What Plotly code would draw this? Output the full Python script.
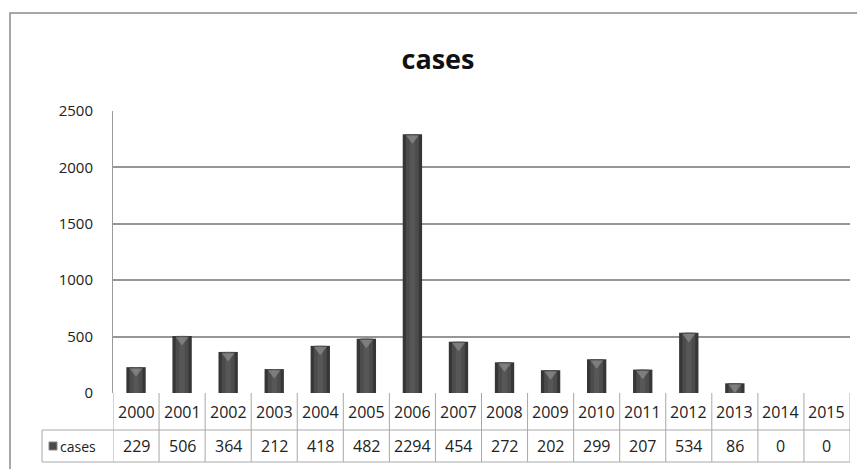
import plotly.graph_objects as go

years = ["2000", "2001", "2002", "2003", "2004", "2005", "2006", "2007",
         "2008", "2009", "2010", "2011", "2012", "2013", "2014", "2015"]
cases = [229, 506, 364, 212, 418, 482, 2294, 454, 272, 202, 299, 207, 534, 86, 0, 0]
series_name = "cases"
y_ticks = [0, 500, 1000, 1500, 2000, 2500]

W, H = 857, 469
L, R, T, B = 113, 7, 111, 76
pw, ph = W - L - R, H - T - B
YMAX = 2500

def py(pix):  # pixel y -> paper y
    return (H - B - pix) / ph

def px(pix):  # pixel x -> paper x
    return (pix - L) / pw

idx = list(range(len(years)))
fig = go.Figure()
fig.add_trace(go.Bar(x=idx, y=cases, width=0.42, marker=dict(color="#363636", line=dict(width=0)),
                     name=series_name, showlegend=False, hoverinfo="skip"))
fig.add_trace(go.Bar(x=idx, y=cases, width=0.28, marker=dict(color="#4c4c4c", line=dict(width=0)),
                     showlegend=False, hoverinfo="skip"))
fig.add_trace(go.Bar(x=idx, y=cases, width=0.12, marker=dict(color="#575757", line=dict(width=0)),
                     showlegend=False, hoverinfo="skip"))
# light cap at the top of each bar (3D cylinder look)
cap_off = 4 * YMAX / ph
fig.add_trace(go.Scatter(x=idx, y=[v - cap_off for v in cases], mode="markers",
                         marker=dict(symbol="triangle-down", size=[11 if v > 0 else 0 for v in cases],
                                     color="#8e8e8e", line=dict(width=0)),
                         showlegend=False, hoverinfo="skip", cliponaxis=True))

shapes = []
grid_col = "#969696"
tbl_col = "#a8a8a8"
row1_bot = py(430)
row2_bot = py(462)
hdr_left = px(42)
for i in range(len(years) + 1):
    xb = i - 0.5
    shapes.append(dict(type="line", xref="x", yref="paper", x0=xb, x1=xb, y0=0, y1=row2_bot,
                       line=dict(color=tbl_col, width=1)))
for yy in [row1_bot, row2_bot]:
    shapes.append(dict(type="line", xref="paper", yref="paper", x0=hdr_left, x1=1.0, y0=yy, y1=yy,
                       line=dict(color=tbl_col, width=1)))
shapes.append(dict(type="line", xref="paper", yref="paper", x0=hdr_left, x1=hdr_left, y0=row1_bot, y1=row2_bot,
                   line=dict(color=tbl_col, width=1)))
shapes.append(dict(type="rect", xref="paper", yref="paper", x0=px(49), x1=px(57), y0=py(450), y1=py(442),
                   fillcolor="#4a4a4a", line=dict(color="#888888", width=1)))
shapes.append(dict(type="rect", xref="paper", yref="paper", x0=px(10), x1=px(870), y0=py(490), y1=py(13),
                   line=dict(color="#8a8a8a", width=1.5), fillcolor="rgba(0,0,0,0)", layer="below"))

annotations = []
FONT = "Open Sans, Liberation Sans, Arial"
font_tbl = dict(family=FONT, size=16, color="#222222")
for i, (yr, v) in enumerate(zip(years, cases)):
    annotations.append(dict(x=i, y=(0 + row1_bot) / 2, xref="x", yref="paper", text=yr, showarrow=False,
                            font=font_tbl, xanchor="center", yanchor="middle"))
    annotations.append(dict(x=i, y=(row1_bot + row2_bot) / 2, xref="x", yref="paper", text=str(v),
                            showarrow=False, font=font_tbl, xanchor="center", yanchor="middle"))
annotations.append(dict(x=px(58), y=(row1_bot + row2_bot) / 2, xref="paper", yref="paper", text=series_name,
                        showarrow=False, font=dict(family=FONT, size=14, color="#222222"),
                        xanchor="left", yanchor="middle"))

fig.update_layout(
    width=W, height=H,
    margin=dict(l=L, r=R, t=T, b=B),
    paper_bgcolor="white", plot_bgcolor="white",
    barmode="overlay",
    title=dict(text="<b>cases</b>", x=438 / W, xanchor="center", y=1 - 60 / H, yanchor="middle",
               font=dict(family=FONT, size=27, color="#111111")),
    xaxis=dict(range=[-0.5, len(years) - 0.5], showticklabels=False, showgrid=False, zeroline=False,
               showline=False, fixedrange=True),
    yaxis=dict(range=[0, YMAX], tickvals=y_ticks, showgrid=True, gridcolor=grid_col, gridwidth=1.5,
               zeroline=False, showline=True, linecolor="#9a9a9a", linewidth=1,
               ticks="", ticklabelstandoff=16,
               tickfont=dict(family=FONT, size=15, color="#222222")),
    shapes=shapes,
    annotations=annotations,
)

fig.write_html("out.html")
